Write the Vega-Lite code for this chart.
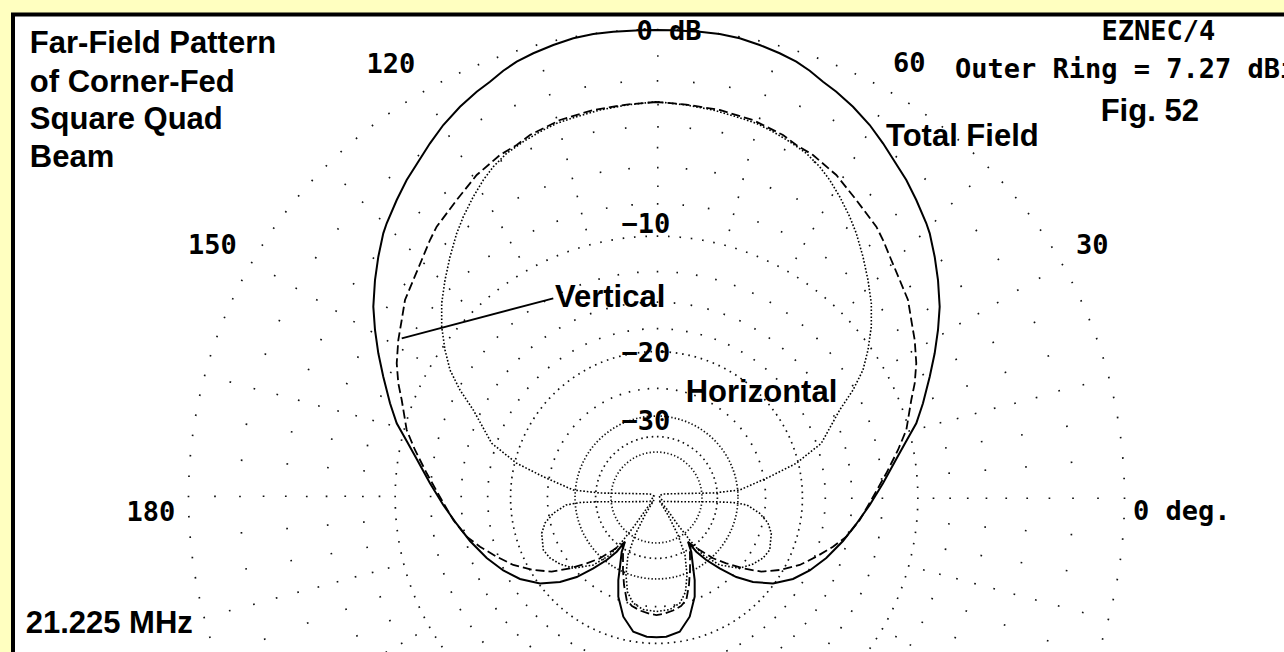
{
  "$schema": "https://vega.github.io/schema/vega-lite/v6.json",
  "width": 1284,
  "height": 652,
  "autosize": {"type": "none"},
  "padding": 0,
  "background": "#FFFFC0",
  "config": {"view": {"stroke": null}},
  "datasets": {
    "rings": [
      {"db": 0, "r": 100}, {"db": -1, "r": 94.34}, {"db": -2, "r": 89.0}, {"db": -3, "r": 83.96},
      {"db": -4, "r": 79.21}, {"db": -5, "r": 74.73}, {"db": -6, "r": 70.5}, {"db": -7, "r": 66.51},
      {"db": -8, "r": 62.74}, {"db": -9, "r": 59.19}, {"db": -10, "r": 55.84}, {"db": -12.5, "r": 48.27},
      {"db": -15, "r": 41.73}, {"db": -17.5, "r": 36.07}, {"db": -20, "r": 31.18}, {"db": -25, "r": 23.3},
      {"db": -30, "r": 17.41}, {"db": -35, "r": 13.01}, {"db": -40, "r": 9.72}
    ],
    "total": [
      {"o":1,"x":0,"y":99.89},{"o":2,"x":-3.53,"y":99.83},{"o":3,"x":-9.23,"y":99.53},{"o":4,"x":-13.5,"y":99.04},
      {"o":5,"x":-17.78,"y":98.12},{"o":6,"x":-22.05,"y":96.69},{"o":7,"x":-26.32,"y":94.92},{"o":8,"x":-29.87,"y":93.12},
      {"o":9,"x":-32.74,"y":91.2},{"o":10,"x":-35.58,"y":88.85},{"o":11,"x":-38.42,"y":86.71},{"o":12,"x":-41.99,"y":83.5},
      {"o":13,"x":-45.56,"y":79.59},{"o":14,"x":-48.4,"y":75.68},{"o":15,"x":-53.38,"y":67.84},{"o":16,"x":-55.51,"y":63.57},
      {"o":17,"x":-57.65,"y":58.59},{"o":18,"x":-58.38,"y":56.45},{"o":19,"x":-59.44,"y":51.45},{"o":20,"x":-60.15,"y":46.47},
      {"o":21,"x":-60.51,"y":40.77},{"o":22,"x":-60.15,"y":35.79},{"o":23,"x":-59.44,"y":30.81},{"o":24,"x":-58.38,"y":25.81},
      {"o":25,"x":-56.94,"y":20.13},{"o":26,"x":-55.51,"y":15.85},{"o":27,"x":-53.38,"y":12.07},{"o":28,"x":-51.24,"y":8.23},
      {"o":29,"x":-48.4,"y":3.03},{"o":30,"x":-45.56,"y":-1.6},{"o":31,"x":-42.69,"y":-5.66},{"o":32,"x":-39.85,"y":-9.29},
      {"o":33,"x":-36.28,"y":-12.93},{"o":34,"x":-32.74,"y":-15.6},{"o":35,"x":-29.17,"y":-17.41},{"o":36,"x":-24.89,"y":-18.38},
      {"o":37,"x":-20.62,"y":-18.06},{"o":38,"x":-17.05,"y":-16.99},{"o":39,"x":-13.5,"y":-15.13},{"o":40,"x":-10.64,"y":-13.35},
      {"o":41,"x":-8.5,"y":-11.58},{"o":42,"x":-6.73,"y":-9.44},{"o":43,"x":-7.44,"y":-11.65},{"o":44,"x":-7.8,"y":-14.79},
      {"o":45,"x":-8.16,"y":-17.63},{"o":46,"x":-8.16,"y":-21.2},{"o":47,"x":-7.09,"y":-25.47},{"o":48,"x":-4.96,"y":-28.68},
      {"o":49,"x":-2.09,"y":-29.74},{"o":50,"x":0,"y":-29.87},
      {"o":51,"x":2.09,"y":-29.74},{"o":52,"x":4.96,"y":-28.68},{"o":53,"x":7.09,"y":-25.47},{"o":54,"x":8.16,"y":-21.2},
      {"o":55,"x":8.16,"y":-17.63},{"o":56,"x":7.8,"y":-14.79},{"o":57,"x":7.44,"y":-11.65},{"o":58,"x":6.73,"y":-9.44},
      {"o":59,"x":8.5,"y":-11.58},{"o":60,"x":10.64,"y":-13.35},{"o":61,"x":13.5,"y":-15.13},{"o":62,"x":17.05,"y":-16.99},
      {"o":63,"x":20.62,"y":-18.06},{"o":64,"x":24.89,"y":-18.38},{"o":65,"x":29.17,"y":-17.41},{"o":66,"x":32.74,"y":-15.6},
      {"o":67,"x":36.28,"y":-12.93},{"o":68,"x":39.85,"y":-9.29},{"o":69,"x":42.69,"y":-5.66},{"o":70,"x":45.56,"y":-1.6},
      {"o":71,"x":48.4,"y":3.03},{"o":72,"x":51.24,"y":8.23},{"o":73,"x":53.38,"y":12.07},{"o":74,"x":55.51,"y":15.85},
      {"o":75,"x":56.94,"y":20.13},{"o":76,"x":58.38,"y":25.81},{"o":77,"x":59.44,"y":30.81},{"o":78,"x":60.15,"y":35.79},
      {"o":79,"x":60.51,"y":40.77},{"o":80,"x":60.15,"y":46.47},{"o":81,"x":59.44,"y":51.45},{"o":82,"x":58.38,"y":56.45},
      {"o":83,"x":57.65,"y":58.59},{"o":84,"x":55.51,"y":63.57},{"o":85,"x":53.38,"y":67.84},{"o":86,"x":48.4,"y":75.68},
      {"o":87,"x":45.56,"y":79.59},{"o":88,"x":41.99,"y":83.5},{"o":89,"x":38.42,"y":86.71},{"o":90,"x":35.58,"y":88.85},
      {"o":91,"x":32.74,"y":91.2},{"o":92,"x":29.87,"y":93.12},{"o":93,"x":26.32,"y":94.92},{"o":94,"x":22.05,"y":96.69},
      {"o":95,"x":17.78,"y":98.12},{"o":96,"x":13.5,"y":99.04},{"o":97,"x":9.23,"y":99.53},{"o":98,"x":3.53,"y":99.83},
      {"o":99,"x":0,"y":99.89}
    ],
    "vertical": [
      {"o":1,"x":0,"y":84.51},{"o":2,"x":-6.37,"y":83.97},{"o":3,"x":-13.5,"y":82.8},{"o":4,"x":-20.62,"y":80.66},
      {"o":5,"x":-27.03,"y":77.46},{"o":6,"x":-29.87,"y":75.32},{"o":7,"x":-33.44,"y":73.18},{"o":8,"x":-38.42,"y":68.91},
      {"o":9,"x":-42.69,"y":63.57},{"o":10,"x":-46.97,"y":57.86},{"o":11,"x":-48.4,"y":55.02},{"o":12,"x":-50.17,"y":50.75},
      {"o":13,"x":-51.97,"y":46.47},{"o":14,"x":-53.74,"y":42.2},{"o":15,"x":-54.44,"y":37.93},{"o":16,"x":-55.17,"y":33.65},
      {"o":17,"x":-55.51,"y":28.68},{"o":18,"x":-55.17,"y":24.4},{"o":19,"x":-54.44,"y":20.83},{"o":20,"x":-53.38,"y":14.42},
      {"o":21,"x":-51.6,"y":10.15},{"o":22,"x":-49.1,"y":5.17},{"o":23,"x":-45.9,"y":-0.53},{"o":24,"x":-43.42,"y":-4.81},
      {"o":25,"x":-40.56,"y":-8.38},{"o":26,"x":-37.71,"y":-10.51},{"o":27,"x":-34.15,"y":-12.65},{"o":28,"x":-30.6,"y":-14.42},
      {"o":29,"x":-26.32,"y":-15.49},{"o":30,"x":-22.39,"y":-15.85},{"o":31,"x":-18.48,"y":-15.13},{"o":32,"x":-14.91,"y":-14.06},
      {"o":33,"x":-12.07,"y":-12.99},{"o":34,"x":-9.23,"y":-11.22},{"o":35,"x":-7.09,"y":-9.79},{"o":36,"x":-7.16,"y":-12.5},
      {"o":37,"x":-7.16,"y":-15.49},{"o":38,"x":-6.94,"y":-18.7},{"o":39,"x":-6.37,"y":-21.9},{"o":40,"x":-5.24,"y":-23.18},
      {"o":41,"x":-3.53,"y":-24.15},{"o":42,"x":-1.39,"y":-24.89},{"o":43,"x":0,"y":-25.11},
      {"o":44,"x":1.39,"y":-24.89},{"o":45,"x":3.53,"y":-24.15},{"o":46,"x":5.24,"y":-23.18},{"o":47,"x":6.37,"y":-21.9},
      {"o":48,"x":6.94,"y":-18.7},{"o":49,"x":7.16,"y":-15.49},{"o":50,"x":7.16,"y":-12.5},{"o":51,"x":7.09,"y":-9.79},
      {"o":52,"x":9.23,"y":-11.22},{"o":53,"x":12.07,"y":-12.99},{"o":54,"x":14.91,"y":-14.06},{"o":55,"x":18.48,"y":-15.13},
      {"o":56,"x":22.39,"y":-15.85},{"o":57,"x":26.32,"y":-15.49},{"o":58,"x":30.6,"y":-14.42},{"o":59,"x":34.15,"y":-12.65},
      {"o":60,"x":37.71,"y":-10.51},{"o":61,"x":40.56,"y":-8.38},{"o":62,"x":43.42,"y":-4.81},{"o":63,"x":45.9,"y":-0.53},
      {"o":64,"x":49.1,"y":5.17},{"o":65,"x":51.6,"y":10.15},{"o":66,"x":53.38,"y":14.42},{"o":67,"x":54.44,"y":20.83},
      {"o":68,"x":55.17,"y":24.4},{"o":69,"x":55.51,"y":28.68},{"o":70,"x":55.17,"y":33.65},{"o":71,"x":54.44,"y":37.93},
      {"o":72,"x":53.74,"y":42.2},{"o":73,"x":51.97,"y":46.47},{"o":74,"x":50.17,"y":50.75},{"o":75,"x":48.4,"y":55.02},
      {"o":76,"x":46.97,"y":57.86},{"o":77,"x":42.69,"y":63.57},{"o":78,"x":38.42,"y":68.91},{"o":79,"x":33.44,"y":73.18},
      {"o":80,"x":29.87,"y":75.32},{"o":81,"x":27.03,"y":77.46},{"o":82,"x":20.62,"y":80.66},{"o":83,"x":13.5,"y":82.8},
      {"o":84,"x":6.37,"y":83.97},{"o":85,"x":0,"y":84.51}
    ],
    "horizontal": [
      {"o":1,"x":0,"y":84.57},{"o":2,"x":-6.37,"y":83.87},{"o":3,"x":-12.07,"y":82.8},{"o":4,"x":-17.05,"y":81.37},
      {"o":5,"x":-21.32,"y":79.96},{"o":6,"x":-24.89,"y":78.16},{"o":7,"x":-28.46,"y":76.03},{"o":8,"x":-32.01,"y":73.55},
      {"o":9,"x":-34.87,"y":70.68},{"o":10,"x":-37.01,"y":67.84},{"o":11,"x":-39.15,"y":64.27},{"o":12,"x":-41.28,"y":60.0},
      {"o":13,"x":-42.69,"y":56.45},{"o":14,"x":-44.12,"y":51.45},{"o":15,"x":-45.19,"y":46.47},{"o":16,"x":-45.9,"y":41.5},
      {"o":17,"x":-45.9,"y":36.5},{"o":18,"x":-45.19,"y":31.52},{"o":19,"x":-44.12,"y":27.24},{"o":20,"x":-41.99,"y":22.97},
      {"o":21,"x":-39.15,"y":18.7},{"o":22,"x":-35.21,"y":11.58},{"o":23,"x":-29.87,"y":7.31},{"o":24,"x":-24.19,"y":4.44},
      {"o":25,"x":-17.78,"y":1.6},{"o":26,"x":-12.07,"y":0.96},{"o":27,"x":-5.66,"y":0.85},{"o":28,"x":-1.39,"y":0.75},
      {"o":29,"x":-0.53,"y":0.32},{"o":30,"x":-1.39,"y":-0.85},{"o":31,"x":-5.66,"y":-0.9},{"o":32,"x":-12.07,"y":-0.9},
      {"o":33,"x":-16.35,"y":-1.07},{"o":34,"x":-19.34,"y":-1.6},{"o":35,"x":-22.05,"y":-3.38},{"o":36,"x":-23.82,"y":-5.45},
      {"o":37,"x":-24.53,"y":-7.65},{"o":38,"x":-24.19,"y":-11.22},{"o":39,"x":-22.76,"y":-12.93},{"o":40,"x":-20.62,"y":-14.21},
      {"o":41,"x":-17.78,"y":-15.13},{"o":42,"x":-13.5,"y":-14.42},{"o":43,"x":-9.94,"y":-12.29},{"o":44,"x":-7.09,"y":-9.08},
      {"o":45,"x":-4.59,"y":-5.88},{"o":46,"x":-2.03,"y":-2.24},{"o":47,"x":-0.53,"y":-0.53},{"o":48,"x":-2.46,"y":-3.74},
      {"o":49,"x":-4.59,"y":-8.01},{"o":50,"x":-6.09,"y":-12.29},{"o":51,"x":-6.52,"y":-16.56},{"o":52,"x":-6.2,"y":-20.19},
      {"o":53,"x":-5.02,"y":-22.54},{"o":54,"x":-2.88,"y":-23.93},{"o":55,"x":0,"y":-24.36},
      {"o":56,"x":2.88,"y":-23.93},{"o":57,"x":5.02,"y":-22.54},{"o":58,"x":6.2,"y":-20.19},{"o":59,"x":6.52,"y":-16.56},
      {"o":60,"x":6.09,"y":-12.29},{"o":61,"x":4.59,"y":-8.01},{"o":62,"x":2.46,"y":-3.74},{"o":63,"x":0.53,"y":-0.53},
      {"o":64,"x":2.03,"y":-2.24},{"o":65,"x":4.59,"y":-5.88},{"o":66,"x":7.09,"y":-9.08},{"o":67,"x":9.94,"y":-12.29},
      {"o":68,"x":13.5,"y":-14.42},{"o":69,"x":17.78,"y":-15.13},{"o":70,"x":20.62,"y":-14.21},{"o":71,"x":22.76,"y":-12.93},
      {"o":72,"x":24.19,"y":-11.22},{"o":73,"x":24.53,"y":-7.65},{"o":74,"x":23.82,"y":-5.45},{"o":75,"x":22.05,"y":-3.38},
      {"o":76,"x":19.34,"y":-1.6},{"o":77,"x":16.35,"y":-1.07},{"o":78,"x":12.07,"y":-0.9},{"o":79,"x":5.66,"y":-0.9},
      {"o":80,"x":1.39,"y":-0.85},{"o":81,"x":0.53,"y":0.32},{"o":82,"x":1.39,"y":0.75},{"o":83,"x":5.66,"y":0.85},
      {"o":84,"x":12.07,"y":0.96},{"o":85,"x":17.78,"y":1.6},{"o":86,"x":24.19,"y":4.44},{"o":87,"x":29.87,"y":7.31},
      {"o":88,"x":35.21,"y":11.58},{"o":89,"x":39.15,"y":18.7},{"o":90,"x":41.99,"y":22.97},{"o":91,"x":44.12,"y":27.24},
      {"o":92,"x":45.19,"y":31.52},{"o":93,"x":45.9,"y":36.5},{"o":94,"x":45.9,"y":41.5},{"o":95,"x":45.19,"y":46.47},
      {"o":96,"x":44.12,"y":51.45},{"o":97,"x":42.69,"y":56.45},{"o":98,"x":41.28,"y":60.0},{"o":99,"x":39.15,"y":64.27},
      {"o":100,"x":37.01,"y":67.84},{"o":101,"x":34.87,"y":70.68},{"o":102,"x":32.01,"y":73.55},{"o":103,"x":28.46,"y":76.03},
      {"o":104,"x":24.89,"y":78.16},{"o":105,"x":21.32,"y":79.96},{"o":106,"x":17.05,"y":81.37},{"o":107,"x":12.07,"y":82.8},
      {"o":108,"x":6.37,"y":83.87},{"o":109,"x":0,"y":84.57}
    ],
    "sans": [
      {"t": "Far-Field Pattern", "x": -133.9, "y": 94.92},
      {"t": "of Corner-Fed", "x": -133.9, "y": 86.71},
      {"t": "Square Quad", "x": -133.9, "y": 78.68},
      {"t": "Beam", "x": -133.9, "y": 70.68},
      {"t": "21.225 MHz", "x": -134.79, "y": -29.02},
      {"t": "Vertical", "x": -21.69, "y": 40.81},
      {"t": "Horizontal", "x": 6.24, "y": 20.47},
      {"t": "Total Field", "x": 49.04, "y": 75.11},
      {"t": "Fig. 52", "x": 94.91, "y": 80.51}
    ],
    "mono": [
      {"t": "0 dB", "x": -4.27, "y": 97.76},
      {"t": "EZNEC/4", "x": 95.09, "y": 97.76},
      {"t": "60", "x": 50.53, "y": 90.98},
      {"t": "Outer Ring = 7.27 dBi", "x": 63.78, "y": 89.57},
      {"t": "120", "x": -61.97, "y": 90.77},
      {"t": "150", "x": -100.11, "y": 52.03},
      {"t": "30", "x": 89.64, "y": 52.03},
      {"t": "180", "x": -113.25, "y": -4.96},
      {"t": "0 deg.", "x": 101.82, "y": -4.81},
      {"t": "−10", "x": -7.48, "y": 56.45},
      {"t": "−20", "x": -7.48, "y": 29.02},
      {"t": "−30", "x": -7.48, "y": 14.42}
    ]
  },
  "layer": [
    {
      "data": {"values": [{}]},
      "mark": {"type": "rect", "fill": "#FFFFFF", "stroke": "#000000", "strokeWidth": 4, "clip": true},
      "encoding": {
        "x": {"datum": -137.5, "type": "quantitative", "scale": {"domain": [-140.278, 134.081], "nice": false, "zero": false}, "axis": null},
        "x2": {"datum": 200},
        "y": {"datum": 103.2, "type": "quantitative", "scale": {"domain": [-33.013, 106.303], "nice": false, "zero": false}, "axis": null},
        "y2": {"datum": -100}
      }
    },
    {
      "data": {"name": "rings"},
      "mark": {"type": "point", "shape": "circle", "filled": false, "opacity": 1, "stroke": "#111111", "strokeWidth": 1.7, "clip": true},
      "encoding": {
        "x": {"datum": 0, "type": "quantitative", "scale": {"domain": [-140.278, 134.081], "nice": false, "zero": false}, "axis": null},
        "y": {"datum": 0, "type": "quantitative", "scale": {"domain": [-33.013, 106.303], "nice": false, "zero": false}, "axis": null},
        "size": {"field": "r", "type": "quantitative", "scale": {"type": "pow", "exponent": 2, "domain": [0, 100], "range": [0, 876096]}, "legend": null},
        "strokeDash": {
          "field": "db", "type": "nominal", "legend": null,
          "scale": {
            "domain": [0, -1, -2, -3, -4, -5, -6, -7, -8, -9, -10, -12.5, -15, -17.5, -20, -25, -30, -35, -40],
            "range": [[1.6, 18.82], [1.6, 113.99], [1.6, 34.75], [1.6, 101.27], [1.6, 30.75], [1.6, 89.96], [1.6, 27.19], [1.6, 79.89], [1.6, 24.02], [1.6, 70.92], [1.6, 9.8], [1.6, 18.11], [1.6, 15.44], [1.6, 13.13], [1.6, 4.767], [1.6, 7.915], [1.4, 2.155], [1.6, 3.714], [1.3, 2.27]]
          }
        }
      }
    },
    {
      "data": {"name": "horizontal"},
      "mark": {"type": "line", "stroke": "#000000", "strokeWidth": 1.6, "strokeDash": [1.6, 1.9], "clip": true},
      "encoding": {
        "x": {"field": "x", "type": "quantitative", "scale": {"domain": [-140.278, 134.081], "nice": false, "zero": false}, "axis": null},
        "y": {"field": "y", "type": "quantitative", "scale": {"domain": [-33.013, 106.303], "nice": false, "zero": false}, "axis": null},
        "order": {"field": "o", "type": "quantitative"}
      }
    },
    {
      "data": {"name": "vertical"},
      "mark": {"type": "line", "stroke": "#000000", "strokeWidth": 1.8, "strokeDash": [9, 4], "clip": true},
      "encoding": {
        "x": {"field": "x", "type": "quantitative", "scale": {"domain": [-140.278, 134.081], "nice": false, "zero": false}, "axis": null},
        "y": {"field": "y", "type": "quantitative", "scale": {"domain": [-33.013, 106.303], "nice": false, "zero": false}, "axis": null},
        "order": {"field": "o", "type": "quantitative"}
      }
    },
    {
      "data": {"name": "total"},
      "mark": {"type": "line", "stroke": "#000000", "strokeWidth": 2, "clip": true},
      "encoding": {
        "x": {"field": "x", "type": "quantitative", "scale": {"domain": [-140.278, 134.081], "nice": false, "zero": false}, "axis": null},
        "y": {"field": "y", "type": "quantitative", "scale": {"domain": [-33.013, 106.303], "nice": false, "zero": false}, "axis": null},
        "order": {"field": "o", "type": "quantitative"}
      }
    },
    {
      "data": {"values": [{}]},
      "mark": {"type": "rule", "stroke": "#000000", "strokeWidth": 1.8, "clip": true},
      "encoding": {
        "x": {"datum": -54.44, "type": "quantitative", "scale": {"domain": [-140.278, 134.081], "nice": false, "zero": false}, "axis": null},
        "y": {"datum": 34.02, "type": "quantitative", "scale": {"domain": [-33.013, 106.303], "nice": false, "zero": false}, "axis": null},
        "x2": {"datum": -22.05},
        "y2": {"datum": 42.56}
      }
    },
    {
      "data": {"name": "sans"},
      "mark": {"type": "text", "align": "left", "baseline": "alphabetic", "font": "Liberation Sans", "fontSize": 31, "fontWeight": "bold", "color": "#000000", "clip": true},
      "encoding": {
        "x": {"field": "x", "type": "quantitative", "scale": {"domain": [-140.278, 134.081], "nice": false, "zero": false}, "axis": null},
        "y": {"field": "y", "type": "quantitative", "scale": {"domain": [-33.013, 106.303], "nice": false, "zero": false}, "axis": null},
        "text": {"field": "t"}
      }
    },
    {
      "data": {"name": "mono"},
      "mark": {"type": "text", "align": "left", "baseline": "alphabetic", "font": "DejaVu Sans Mono", "fontSize": 27, "fontWeight": "bold", "color": "#000000", "clip": true},
      "encoding": {
        "x": {"field": "x", "type": "quantitative", "scale": {"domain": [-140.278, 134.081], "nice": false, "zero": false}, "axis": null},
        "y": {"field": "y", "type": "quantitative", "scale": {"domain": [-33.013, 106.303], "nice": false, "zero": false}, "axis": null},
        "text": {"field": "t"}
      }
    }
  ]
}
